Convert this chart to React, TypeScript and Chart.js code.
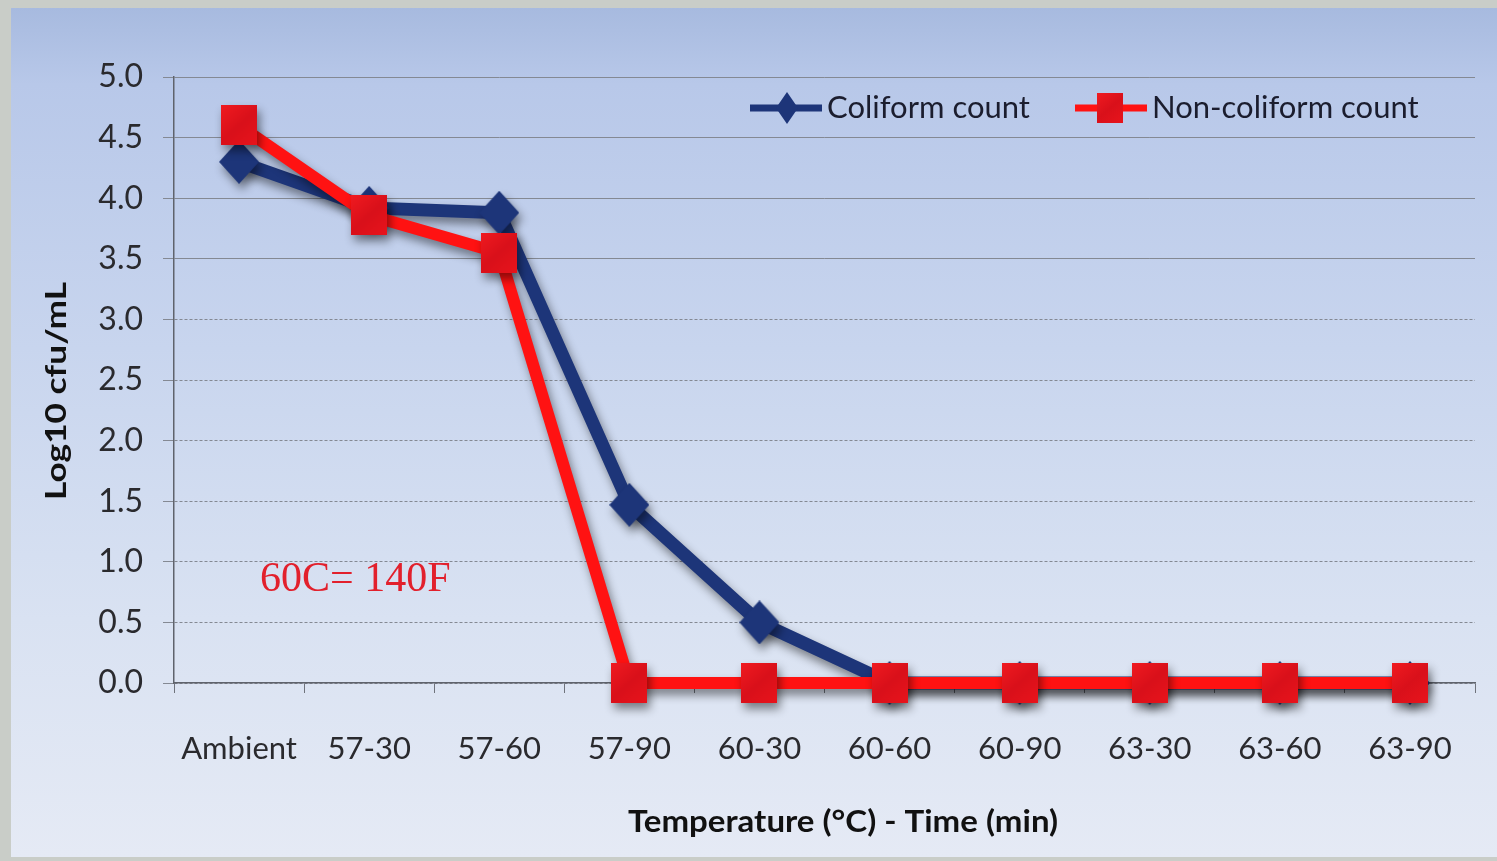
import React, { useEffect, useRef } from 'react';
import { Chart, registerables } from 'chart.js';
Chart.register(...registerables);

const categories = ['Ambient', '57-30', '57-60', '57-90', '60-30', '60-60', '60-90', '63-30', '63-60', '63-90'];
const coliform = [4.3, 3.92, 3.88, 1.47, 0.5, 0, 0, 0, 0, 0];
const nonColiform = [4.6, 3.86, 3.55, 0, 0, 0, 0, 0, 0, 0];
const yTicks = [0, 0.5, 1, 1.5, 2, 2.5, 3, 3.5, 4, 4.5, 5];
const seriesNames = ['Coliform count', 'Non-coliform count'];

const BLUE = '#1d3579';
const RED = '#ff1212';
const FONT = 'Lato, "Noto Sans", sans-serif';

function makeSquare(w: number, h: number) {
  const c = document.createElement('canvas');
  c.width = w; c.height = h;
  const g = c.getContext('2d')!;
  const grad = g.createLinearGradient(0, 0, w, h);
  grad.addColorStop(0, '#f01a20');
  grad.addColorStop(0.5, '#d9101a');
  grad.addColorStop(1, '#e8141c');
  g.fillStyle = grad;
  g.fillRect(0, 0, w, h);
  return c;
}

function makeDiamond(w: number, h: number) {
  const c = document.createElement('canvas');
  c.width = w; c.height = h;
  const g = c.getContext('2d')!;
  g.fillStyle = BLUE;
  g.beginPath();
  g.moveTo(w / 2, 0);
  g.lineTo(w, h / 2);
  g.lineTo(w / 2, h);
  g.lineTo(0, h / 2);
  g.closePath();
  g.fill();
  return c;
}

function fitText(ctx: CanvasRenderingContext2D, text: string, cx: number, cy: number, width: number, rot: number) {
  ctx.save();
  ctx.translate(cx, cy);
  ctx.rotate(rot);
  const w = ctx.measureText(text).width;
  ctx.scale(width / w, 1);
  ctx.textAlign = 'center';
  ctx.textBaseline = 'middle';
  ctx.fillText(text, 0, 0);
  ctx.restore();
}

export default function App() {
  const ref = useRef<HTMLCanvasElement | null>(null);

  useEffect(() => {
    document.body.style.margin = '0';
    const square = makeSquare(36, 40);
    const diamond = makeDiamond(40, 44);
    const legSquare = makeSquare(26, 30);
    const legDiamond = makeDiamond(22, 32);

    const shadowPlugin = {
      id: 'shadow',
      beforeDatasetsDraw(chart: any) {
        const ctx = chart.ctx;
        ctx.save();
        ctx.shadowColor = 'rgba(0,0,0,0.45)';
        ctx.shadowBlur = 10;
        ctx.shadowOffsetX = 3;
        ctx.shadowOffsetY = 6;
      },
      afterDatasetsDraw(chart: any) {
        chart.ctx.restore();
      },
    };

    const decorPlugin = {
      id: 'decor',
      afterDraw(chart: any) {
        const ctx = chart.ctx;
        const ca = chart.chartArea;
        ctx.save();
        // legend
        const ly = ca.top + 31;
        const items = [
          { x0: 750, x1: 822, mx: 787, color: BLUE, img: legDiamond, lw: 7, tx: 827, text: seriesNames[0] },
          { x0: 1075, x1: 1147, mx: 1110, color: RED, img: legSquare, lw: 7, tx: 1152, text: seriesNames[1] },
        ];
        for (const it of items) {
          ctx.strokeStyle = it.color;
          ctx.lineWidth = it.lw;
          ctx.beginPath();
          ctx.moveTo(it.x0, ly);
          ctx.lineTo(it.x1, ly);
          ctx.stroke();
          ctx.drawImage(it.img, it.mx - it.img.width / 2, ly - it.img.height / 2);
          ctx.fillStyle = '#1b1d2e';
          ctx.font = `31px ${FONT}`;
          ctx.textAlign = 'left';
          ctx.textBaseline = 'middle';
          ctx.fillText(it.text, it.tx, ly);
        }
        // annotation
        ctx.fillStyle = '#e2202c';
        ctx.font = '42px "Liberation Serif", "Times New Roman", serif';
        ctx.textAlign = 'left';
        ctx.textBaseline = 'middle';
        ctx.fillText('60C= 140F', 260, 580);
        // axis titles
        ctx.fillStyle = '#111111';
        ctx.font = `bold 30px ${FONT}`;
        fitText(ctx, 'Temperature (°C) - Time (min)', 843, 822, 430, 0);
        ctx.font = `bold 29px ${FONT}`;
        fitText(ctx, 'Log10 cfu/mL', 57, 391, 218, -Math.PI / 2);
        ctx.restore();
      },
    };

    const chart = new Chart(ref.current!, {
      type: 'line',
      data: {
        labels: categories,
        datasets: [
          {
            label: seriesNames[1],
            data: nonColiform,
            borderColor: RED,
            backgroundColor: RED,
            borderWidth: 12,
            pointStyle: square as any,
            pointRadius: 2,
            pointBorderWidth: 0,
            tension: 0,
            clip: false as any,
            order: 1,
          },
          {
            label: seriesNames[0],
            data: coliform,
            borderColor: BLUE,
            backgroundColor: BLUE,
            borderWidth: 13,
            pointStyle: diamond as any,
            pointRadius: 2,
            pointBorderWidth: 0,
            tension: 0,
            clip: false as any,
            order: 2,
          },
        ],
      },
      options: {
        animation: false,
        responsive: false,
        maintainAspectRatio: false,
        events: [],
        layout: { padding: { top: 77, right: 22, left: 0, bottom: 0 } },
        plugins: { legend: { display: false }, tooltip: { enabled: false }, title: { display: false } },
        scales: {
          x: {
            type: 'category',
            offset: true,
            grid: { display: true, drawOnChartArea: false, drawTicks: true, tickLength: 10, color: '#6f737c', offset: true },
            border: { display: true, color: '#5f636c', width: 1.5 },
            ticks: { color: '#2a2a2e', font: { family: FONT, size: 31 }, padding: 37, maxRotation: 0, autoSkip: false },
            afterFit: (s: any) => { s.height = 178; s.paddingLeft = 0; s.paddingRight = 0; },
          },
          y: {
            type: 'linear',
            min: 0,
            max: 5,
            afterBuildTicks: (s: any) => { s.ticks = yTicks.map((v) => ({ value: v })); },
            ticks: {
              color: '#2a2a2e',
              font: { family: FONT, size: 32 },
              padding: 20,
              callback: (v: any) => Number(v).toFixed(1),
            },
            grid: { color: '#848993', lineWidth: 1, tickLength: 11, drawTicks: true },
            border: {
              display: true,
              color: '#5f636c',
              width: 1.5,
              dash: (ctx: any) => (ctx.tick && ctx.tick.value < 3.25 ? [3, 2] : []),
            },
            afterFit: (s: any) => { s.width = 174; },
          },
        },
      },
      plugins: [shadowPlugin, decorPlugin],
    } as any);
    return () => chart.destroy();
  }, []);

  return (
    <div style={{ position: 'relative', width: 1497, height: 861, background: '#c9cdc8', overflow: 'hidden' }}>
      <div
        style={{
          position: 'absolute',
          left: 11,
          top: 8,
          right: 0,
          bottom: 4,
          background: 'linear-gradient(180deg, #a7badf 0%, #b8c8e9 9%, #c8d5ee 40%, #d9e2f2 72%, #e5eaf5 100%)',
        }}
      />
      <canvas ref={ref} width={1497} height={861} style={{ position: 'absolute', left: 0, top: 0, width: 1497, height: 861 }} />
    </div>
  );
}
